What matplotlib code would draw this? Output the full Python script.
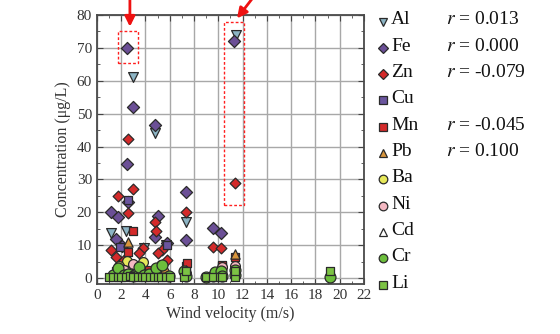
import matplotlib
matplotlib.use("Agg")
import matplotlib.pyplot as plt
from matplotlib.patches import Rectangle
from matplotlib.lines import Line2D

plt.rcParams["font.family"] = ["Liberation Serif", "DejaVu Serif"]
plt.rcParams["mathtext.fontset"] = "stix"

# ---- data: wind velocity (m/s) vs. concentration (ug/L) per element ----
al_x = [2.97, 4.8, 11.45, 1.2, 2.4, 5.7, 7.3, 3.9]
al_y = [61, 44, 74, 13.7, 14.3, 10, 17, 9]

fe_x = [2.47, 3.0, 4.8, 11.3, 2.45, 7.3, 7.3, 9.55, 10.2, 1.2, 1.7, 5.0, 4.8, 1.6, 2.1, 5.8, 2.6]
fe_y = [70, 52, 46.4, 72, 34.8, 26.3, 11.6, 15.3, 13.7, 20, 18.6, 19, 12.6, 12, 9.8, 10.7, 23]

zn_x = [2.55, 11.4, 3.0, 1.7, 2.6, 4.8, 4.9, 7.3, 9.55, 10.2, 1.2, 1.6, 3.8, 3.5, 5.4, 5.0, 5.8, 2.2]
zn_y = [42.4, 29, 27.2, 25, 19.8, 17, 14.3, 20, 9.5, 9.2, 8.5, 6.4, 9.2, 7.6, 8.5, 7.6, 5.5, 5.5]

cu_x = [2.6, 10.3, 5.8, 1.9, 7.3]
cu_y = [23.8, 3.7, 10.0, 9.5, 3.5]

mn_x = [3.0, 2.6, 7.4, 4.3, 11.4, 10.3, 1.6, 5.0]
mn_y = [14.3, 8.0, 4.6, 2.4, 6.5, 3.8, 2.0, 3.0]

pb_x = [2.6, 11.4, 5.6, 7.3]
pb_y = [11.0, 7.3, 3.0, 2.5]

ba_x = [2.5, 3.8, 5.3, 1.8]
ba_y = [5.2, 5.0, 4.0, 3.5]

ni_x = [3.0, 11.4, 10.3, 7.3, 2.2]
ni_y = [4.3, 3.5, 3.2, 1.5, 2.5]

cd_x = [2.9, 5.0]
cd_y = [1.5, 2.0]

cr_x = [1.3, 1.7, 2.2, 2.6, 3.0, 3.5, 3.9, 4.3, 4.9, 5.4, 5.9, 7.3, 7.2, 9.0, 9.6, 9.7, 10.2, 10.3, 11.4, 11.4, 19.2]
cr_y = [1.0, 3.0, 0.8, 1.2, 0.6, 3.4, 0.8, 1.2, 3.0, 4.0, 0.6, 0.5, 2.0, 0.3, 0.5, 1.8, 2.0, 0.6, 0.8, 2.5, 0.3]

li_x = [1.0, 1.3, 1.7, 2.0, 2.4, 2.7, 3.0, 3.4, 3.7, 4.0, 4.4, 4.7, 5.0, 5.3, 5.7, 6.0,
        7.2, 7.3, 9.0, 9.6, 10.1, 10.3, 11.4, 11.4, 19.2]
li_y = [0.3, 0.2, 0.4, 0.3, 0.2, 0.5, 0.3, 0.2, 0.3, 0.4, 0.2, 0.3, 0.3, 0.2, 0.4, 0.3,
        0.3, 2.0, 0.2, 0.3, 0.2, 0.4, 0.3, 2.2, 2.0]

# correlation coefficients shown next to the legend
r_values = {"Al": "0.013", "Fe": "0.000", "Zn": "-0.079", "Mn": "-0.045", "Pb": "0.100"}

series = [
    ("Al", al_x, al_y, "v", "#8cb4c4", 50),
    ("Fe", fe_x, fe_y, "D", "#6b4f96", 38),
    ("Zn", zn_x, zn_y, "D", "#d42a2a", 30),
    ("Cu", cu_x, cu_y, "s", "#6a559e", 40),
    ("Mn", mn_x, mn_y, "s", "#d42a2a", 40),
    ("Pb", pb_x, pb_y, "^", "#d8953c", 45),
    ("Ba", ba_x, ba_y, "o", "#e6e85a", 50),
    ("Ni", ni_x, ni_y, "o", "#f4b8c2", 50),
    ("Cd", cd_x, cd_y, "^", "#ffffff", 40),
    ("Cr", cr_x, cr_y, "o", "#6cbe3c", 62),
    ("Li", li_x, li_y, "s", "#7cc244", 38),
]

fig = plt.figure(figsize=(5.6, 3.34), dpi=100)
ax = fig.add_axes([0.173, 0.15, 0.477, 0.805])

for name, xs, ys, mk, col, sz in series:
    ax.scatter(xs, ys, marker=mk, s=sz, facecolor=col, edgecolor="#2a2a2a",
               linewidths=0.9, zorder=3, label=name)

ax.set_xlim(0, 22)
ax.set_ylim(-1.8, 80)
ax.set_xticks(range(0, 23, 2))
ax.set_xticks(range(0, 23, 1), minor=True)
ax.set_yticks(range(0, 81, 10))
ax.set_yticks(range(0, 81, 5), minor=True)
ax.grid(True, which="major", color="#a8a8a8", linewidth=1.0, zorder=0)
ax.tick_params(which="both", direction="in", top=True, right=True,
               labelsize=11, colors="#444444", labelcolor="#333333")
ax.tick_params(which="major", length=4)
ax.tick_params(which="minor", length=2)
for sp in ax.spines.values():
    sp.set_color("#4a4a4a")
    sp.set_linewidth(1.3)
ax.set_xlabel("Wind velocity (m/s)", fontsize=11.5, color="#333333", labelpad=3)
ax.set_ylabel("Concentration (\u03bcg/L)", fontsize=11.5, color="#333333", labelpad=4)

# highlighted groups with dashed boxes and arrows
ax.add_patch(Rectangle((1.73, 65.3), 1.65, 9.8, fill=False, edgecolor="#ff2020",
                       linestyle=(0, (2, 1.5)), linewidth=1.0, zorder=4))
ax.add_patch(Rectangle((10.46, 22.3), 1.64, 55.6, fill=False, edgecolor="#ff2020",
                       linestyle=(0, (2, 1.5)), linewidth=1.0, zorder=4))
arrow_kw = dict(arrowstyle="-|>,head_length=0.6,head_width=0.3", color="#ee1111", lw=2.0)
ax.annotate("", xy=(2.72, 75.6), xytext=(2.72, 85.5), arrowprops=arrow_kw,
            annotation_clip=False)
ax.annotate("", xy=(11.4, 78.3), xytext=(12.9, 85.5), arrowprops=arrow_kw,
            annotation_clip=False)

# legend column with correlation coefficients
leg_ax = fig.add_axes([0, 0, 1, 1], facecolor="none")
leg_ax.set_xlim(0, 560)
leg_ax.set_ylim(334, 0)
leg_ax.axis("off")
row0, step = 20, 26.3
for i, (name, xs, ys, mk, col, sz) in enumerate(series):
    yy = row0 + i * step
    leg_ax.add_line(Line2D([383], [yy + 1.5], marker=mk,
                           markersize=5.2 if mk != "o" else 6.2,
                           markerfacecolor=col, markeredgecolor="#2a2a2a",
                           markeredgewidth=0.9, linestyle="none"))
    leg_ax.text(391, yy, name, fontsize=14, va="center", ha="left", color="#111111")
    if name in r_values:
        leg_ax.text(446, yy, "$r$ = " + r_values[name], fontsize=14, va="center",
                    ha="left", color="#111111")

fig.savefig("out.png", dpi=100)
